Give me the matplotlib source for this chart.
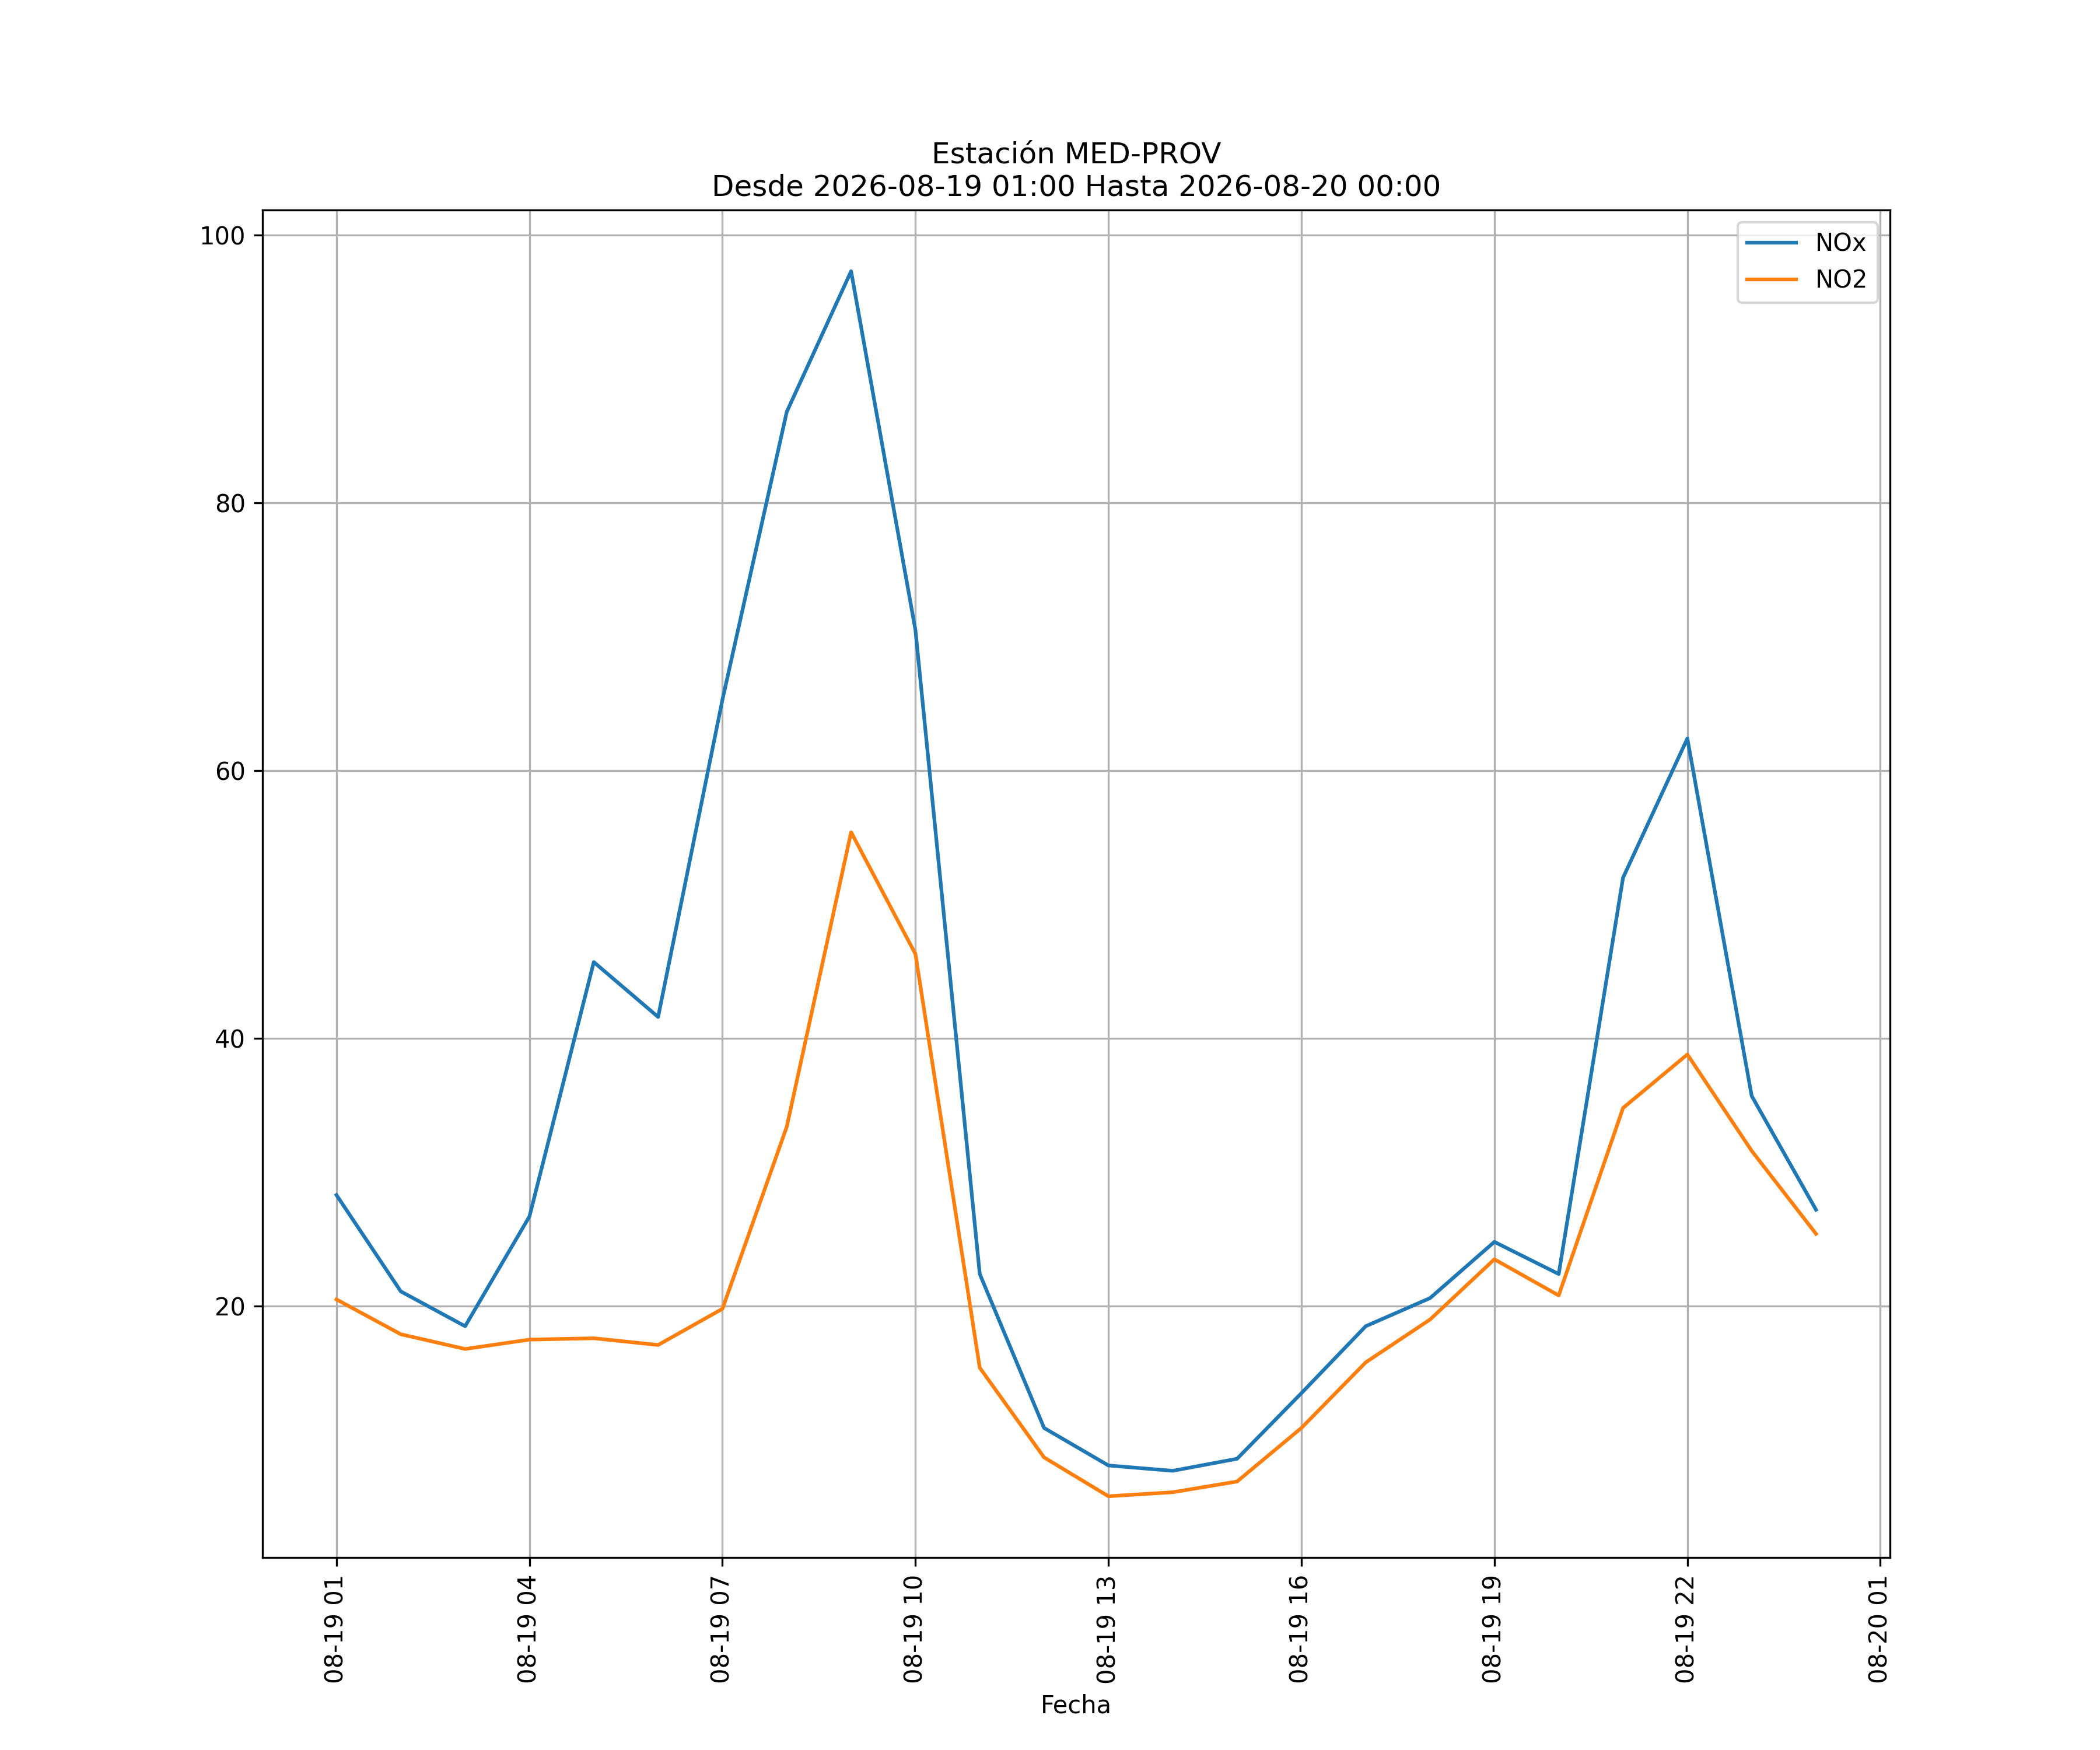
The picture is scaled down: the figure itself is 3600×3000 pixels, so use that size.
import matplotlib
matplotlib.use("Agg")
import matplotlib.pyplot as plt
import matplotlib.dates as mdates
import pandas as pd

fechas = pd.date_range("2026-08-19 01:00", "2026-08-20 00:00", freq="h")
nox = [28.3, 21.1, 18.5, 26.7, 45.7, 41.6, 65.3, 86.8, 97.3, 70.5, 22.4, 10.9,
       8.1, 7.7, 8.6, 13.5, 18.5, 20.6, 24.8, 22.4, 52.0, 62.4, 35.7, 27.2]
no2 = [20.5, 17.9, 16.8, 17.5, 17.6, 17.1, 19.8, 33.4, 55.4, 46.3, 15.4, 8.7,
       5.8, 6.1, 6.9, 10.9, 15.8, 19.0, 23.5, 20.8, 34.8, 38.8, 31.6, 25.4]

fig, ax = plt.subplots(figsize=(12, 10), dpi=300)
ax.plot(fechas, nox, label="NOx")
ax.plot(fechas, no2, label="NO2")
ax.set_title("Estación MED-PROV\nDesde 2026-08-19 01:00 Hasta 2026-08-20 00:00")
ax.set_xlabel("Fecha")
ax.xaxis.set_major_locator(mdates.HourLocator(byhour=[1, 4, 7, 10, 13, 16, 19, 22]))
ax.xaxis.set_major_formatter(mdates.DateFormatter("%m-%d %H"))
plt.setp(ax.get_xticklabels(), rotation=90)
ax.grid(True)
ax.legend(loc="upper right")
fig.savefig("out.png")
